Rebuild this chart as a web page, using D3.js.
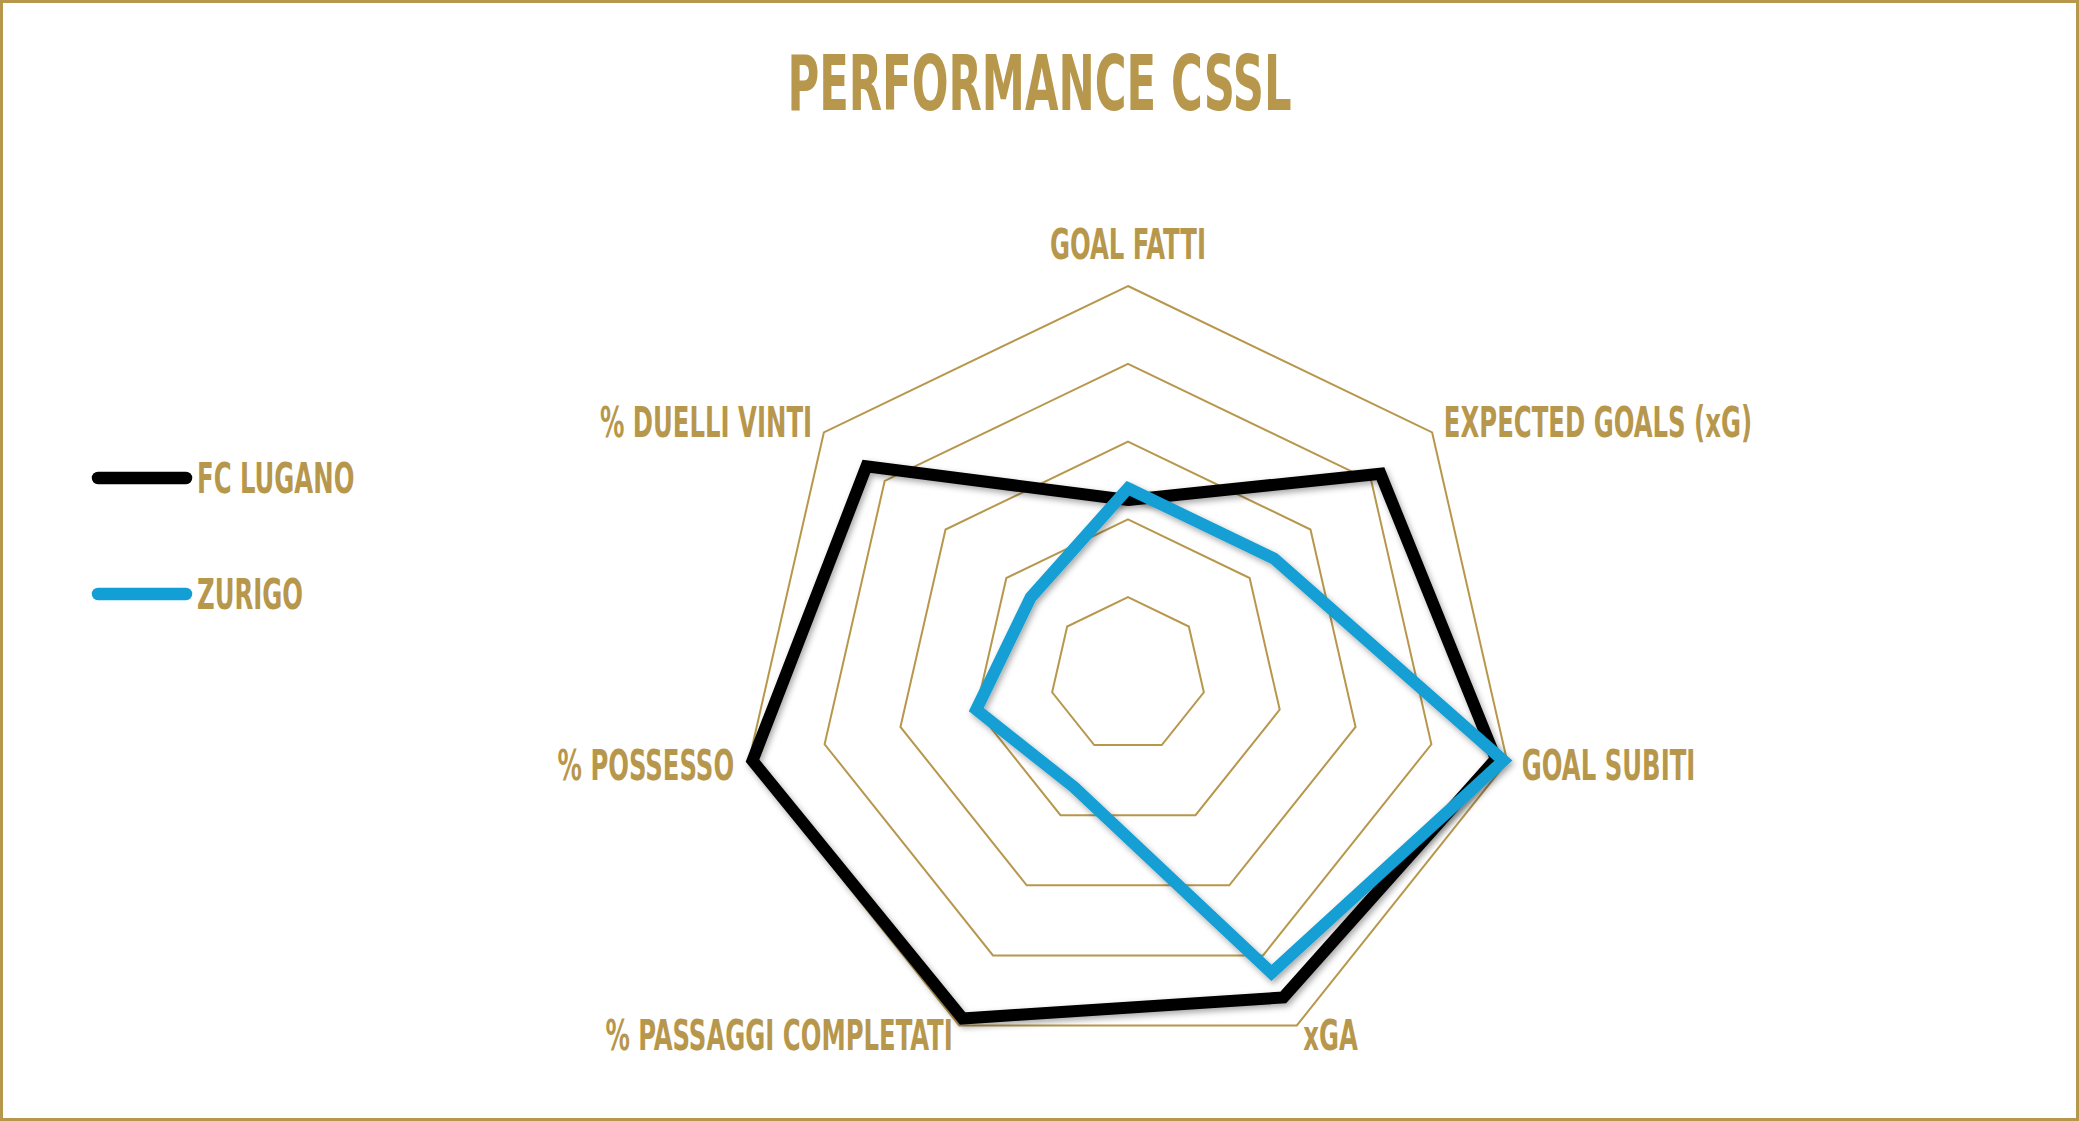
<!DOCTYPE html>
<html>
<head>
<meta charset="utf-8">
<script src="https://cdn.jsdelivr.net/npm/d3@7"></script>
<style>
  html, body { margin: 0; padding: 0; background: #fff; }
  svg { display: block; }
  text { font-family: 'Liberation Sans Narrow', 'DejaVu Sans Condensed', 'Liberation Sans', sans-serif; font-weight: bold; fill: #B7974C; }
</style>
</head>
<body>
<div class="chart"></div>
<script>
const axes = ['GOAL FATTI', 'EXPECTED GOALS (xG)', 'GOAL SUBITI', 'xGA', '% PASSAGGI COMPLETATI', '% POSSESSO', '% DUELLI VINTI']
const teams = ['FC LUGANO', 'ZURIGO']
const lugano = [45, 83, 97, 92, 98, 99, 86]
const zurigo = [48, 48, 99, 85, 32, 40, 32]
const rings = [20, 40, 60, 80, 100]

const width = 2079
const height = 1121
const gold = '#B7974C'
const colors = ['#000000', '#129FD5']
const squeeze = 0.63

const cx = 1128
const cy = 675
const R = 389

const svg = d3.select('.chart')
  .append('svg')
  .attr('width', width)
  .attr('height', height)

const defs = svg.append('defs')
const shadow = defs.append('filter')
  .attr('id', 'shadow')
  .attr('x', '-10%').attr('y', '-10%')
  .attr('width', '120%').attr('height', '120%')
shadow.append('feDropShadow')
  .attr('dx', 2).attr('dy', 3)
  .attr('stdDeviation', 3)
  .attr('flood-color', '#000')
  .attr('flood-opacity', 0.35)

// frame
svg.append('rect')
  .attr('x', 1.5).attr('y', 1.5)
  .attr('width', width - 3).attr('height', height - 3)
  .attr('fill', 'none')
  .attr('stroke', gold)
  .attr('stroke-width', 3)

// squash text horizontally, the original uses a condensed face
const condense = (sel, k) => {
  sel.each(function () {
    const w = this.getComputedTextLength()
    d3.select(this)
      .attr('textLength', w * k)
      .attr('lengthAdjust', 'spacingAndGlyphs')
  })
}

svg.append('text')
  .attr('x', width / 2)
  .attr('y', 110)
  .attr('text-anchor', 'middle')
  .style('font-size', '77px')
  .text('PERFORMANCE CSSL')
  .call(condense, 0.625)

const r = d3.scaleLinear().domain([0, 100]).range([0, R])
const angle = (i) => i * 2 * Math.PI / axes.length

const radial = d3.lineRadial()
  .angle((d, i) => angle(i))
  .radius(d => r(d))
  .curve(d3.curveLinearClosed)

const g = svg.append('g').attr('transform', `translate(${cx},${cy})`)

g.selectAll('.ring')
  .data(rings)
  .enter()
  .append('path')
  .attr('class', 'ring')
  .attr('d', v => radial(axes.map(() => v)))
  .attr('fill', 'none')
  .attr('stroke', gold)
  .attr('stroke-width', 2)

// axis labels
axes.forEach((name, i) => {
  const a = angle(i)
  const s = Math.sin(a)
  const c = Math.cos(a)
  const vx = cx + r(100) * s
  const vy = cy - r(100) * c
  let anchor = 'middle'
  let x = vx
  let y = vy - 27
  if (Math.abs(s) > 0.01) {
    anchor = s > 0 ? 'start' : 'end'
    x = vx + 15 * s
    y = vy + 16 - (c > 0 ? 19 : 10) * c
  }
  svg.append('text')
    .attr('x', x)
    .attr('y', y)
    .attr('text-anchor', anchor)
    .style('font-size', '43px')
    .text(name)
    .call(condense, squeeze)
})

// series
const series = [lugano, zurigo]
g.selectAll('.team')
  .data(series)
  .enter()
  .append('path')
  .attr('class', 'team')
  .attr('d', d => radial(d))
  .attr('fill', 'none')
  .attr('stroke', (d, i) => colors[i])
  .attr('stroke-width', 12)
  .attr('stroke-linejoin', 'miter')
  .attr('filter', 'url(#shadow)')

// legend
const leg = svg.append('g')
teams.forEach((t, i) => {
  const y = 478 + i * 116
  leg.append('line')
    .attr('x1', 98).attr('x2', 186)
    .attr('y1', y).attr('y2', y)
    .attr('stroke', colors[i])
    .attr('stroke-width', 12.5)
    .attr('stroke-linecap', 'round')
  leg.append('text')
    .attr('x', 197)
    .attr('y', y + 15)
    .style('font-size', '43px')
    .text(t)
    .call(condense, squeeze)
})
</script>
</body>
</html>
